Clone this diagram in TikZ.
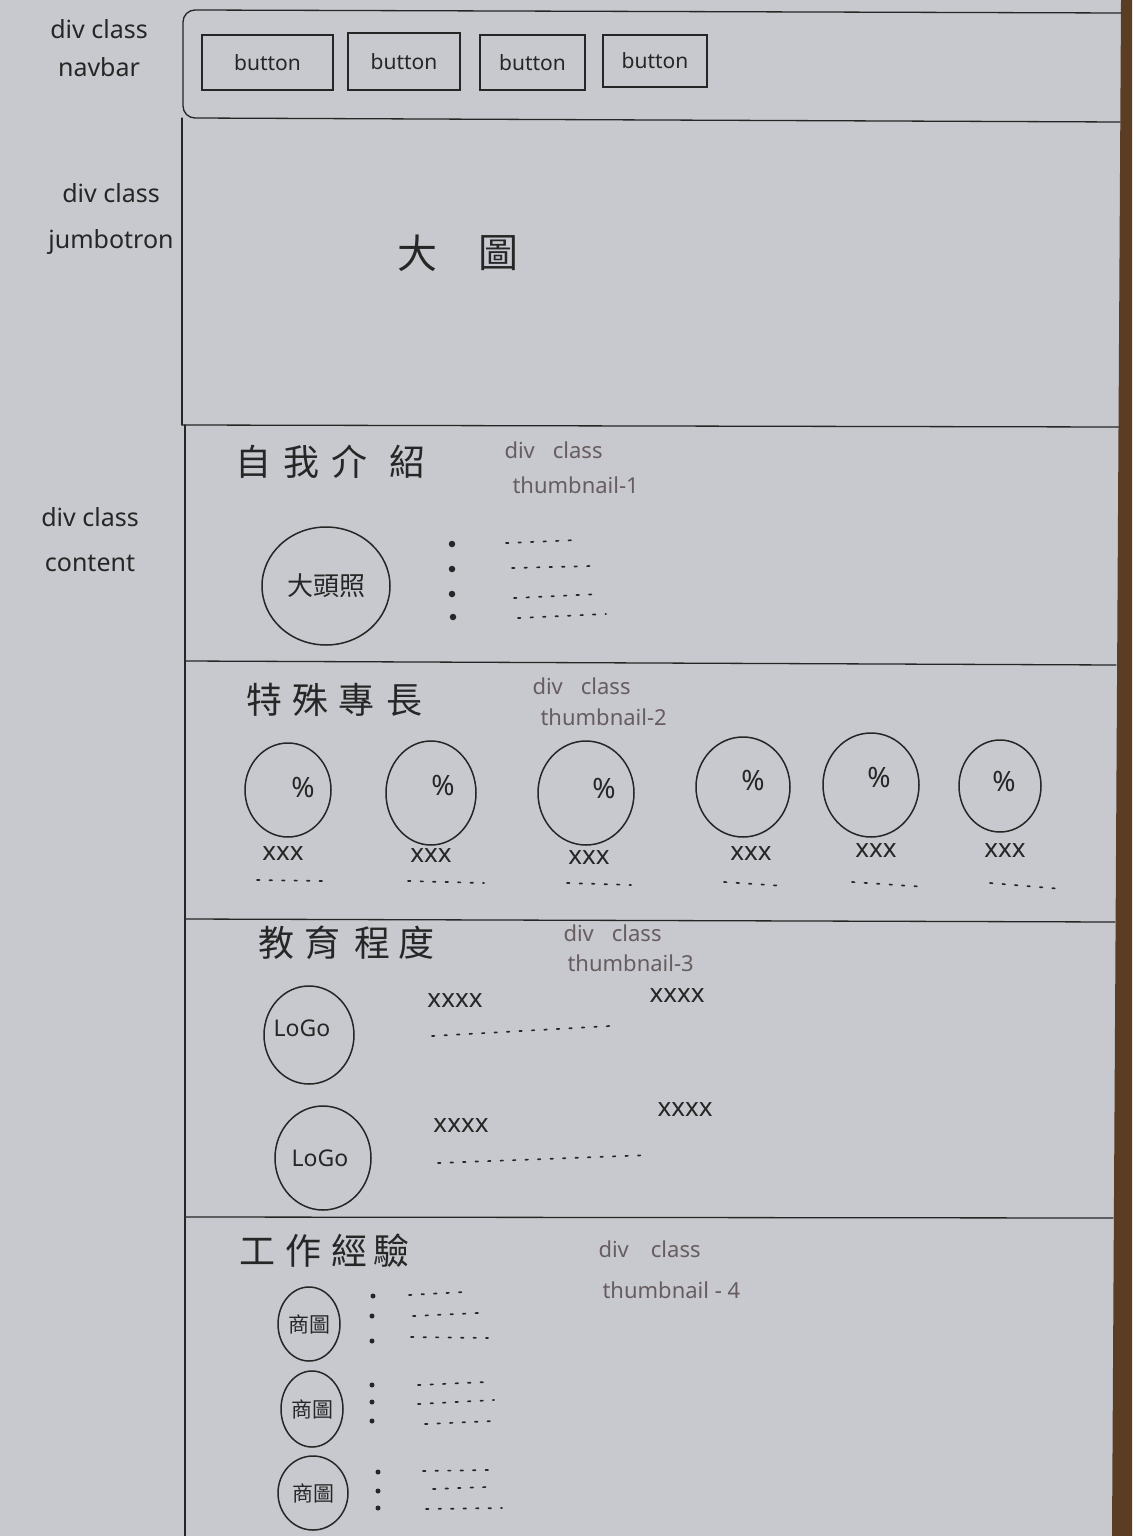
\documentclass[tikz,border=0pt]{standalone}
\usepackage{fontspec}
\setmainfont{Noto Sans}
\newfontfamily\cjk{Noto Sans CJK TC}
\usetikzlibrary{shapes.geometric}
\definecolor{paper}{HTML}{C7C9CE}
\definecolor{wood}{HTML}{5B3D24}
\definecolor{inkc}{HTML}{262626}
\definecolor{notec}{HTML}{675C60}
\begin{document}
\begin{tikzpicture}[x=1pt,y=-1pt,
  ink/.style={draw=inkc, line width=1.3pt, line cap=round},
  bubble/.style={ellipse, draw=inkc, line width=1.5pt, inner sep=0pt},
  dotrow/.style={draw=inkc, line width=1.7pt, dash pattern=on 2.5pt off 10pt, line cap=round},
  bullet/.style={circle, fill=inkc, inner sep=0pt, minimum size=6.5pt},
  side/.style={font=\fontsize{25}{26}\selectfont, text=inkc, align=center},
  note/.style={font=\fontsize{22}{23}\selectfont, text=notec, align=left, anchor=west},
  head/.style={font=\cjk\fontsize{36}{38}\selectfont, text=inkc, anchor=west},
  btnbox/.style={draw=inkc, line width=1.5pt, font=\fontsize{21}{23}\selectfont, text=inkc},
  intext/.style={font=\cjk\fontsize{26}{28}\selectfont, text=inkc},
  pct/.style={font=\fontsize{28}{30}\selectfont, text=inkc},
  xmark/.style={font=\fontsize{26}{28}\selectfont, text=inkc},
  logo/.style={font=\fontsize{23}{25}\selectfont, text=inkc},
  badge/.style={font=\cjk\fontsize{21}{23}\selectfont, text=inkc}
]
% sheet and table edge
\useasboundingbox (0,0) rectangle (1132,1536);
\fill[paper] (0,0) rectangle (1132,1536);
\fill[wood] (1121,0) -- (1132,0) -- (1132,1536) -- (1112,1536) -- cycle;

% navbar frame
\draw[ink] (1121,13) -- (195,10) to[out=180,in=90] (183,22) -- (183,106)
  to[out=-90,in=180] (195,118) -- (1120,122);
% jumbotron and content frames
\draw[ink] (182,118) -- (182,425);
\draw[ink] (182,425) -- (1119,427);
\draw[ink] (185,425) -- (185,1536);
\draw[ink] (186,661) -- (1116,665);
\draw[ink] (186,919) -- (1115,922);
\draw[ink] (186,1217) -- (1113,1218);

% side labels
\node[side] (lnav) at (99,48) {div class\\[12pt]navbar};
\node[side] (ljum) at (111,219) {div class\\[20pt]jumbotron};
\node[side] (lcon) at (90,540) {div class\\[19pt]content};

% navbar buttons
\node[btnbox, minimum width=131pt, minimum height=55pt] (b1) at (267.5,62.5) {button};
\node[btnbox, minimum width=112pt, minimum height=57pt] (b2) at (404,61.5) {button};
\node[btnbox, minimum width=105pt, minimum height=55pt] (b3) at (532.5,62.5) {button};
\node[btnbox, minimum width=104pt, minimum height=52pt] (b4) at (655,61) {button};

% jumbotron
\node[font=\cjk\fontsize{40}{42}\selectfont, text=inkc] (big1) at (417,253) {大};
\node[font=\cjk\fontsize{40}{42}\selectfont, text=inkc] (big2) at (498,253) {圖};

% section 1: about
\node[head] (h1) at (232,462) {自\hspace{12pt}我\hspace{12pt}介\hspace{22pt}紹};
\node[note] (n1) at (501,468) {div\hspace{18pt}class\\[12pt]\hspace{8pt}thumbnail-1};
\node[bubble, minimum width=128pt, minimum height=118pt] (photo) at (326,586) {};
\node[intext] (photot) at (photo) {大頭照};
\node[bullet] (d11) at (452,544) {};
\node[bullet] (d12) at (452,569) {};
\node[bullet] (d13) at (452,594) {};
\node[bullet] (d14) at (453,617) {};
\draw[dotrow] (506,543) -- (578,540);
\draw[dotrow] (512,568) -- (592,566);
\draw[dotrow] (514,598) -- (600,594);
\draw[dotrow] (518,618) -- (606,614);

% section 2: skills
\node[head] (h2) at (243,700) {特\hspace{10pt}殊\hspace{10pt}專\hspace{12pt}長};
\node[note] (n2) at (529,702) {div\hspace{18pt}class\\[8pt]\hspace{8pt}thumbnail-2};
\node[bubble, minimum width=86pt, minimum height=94pt] (s1) at (288,790) {};
\node[bubble, minimum width=90pt, minimum height=104pt] (s2) at (431,793) {};
\node[bubble, minimum width=96pt, minimum height=104pt] (s3) at (586,793) {};
\node[bubble, minimum width=94pt, minimum height=100pt] (s4) at (743,787) {};
\node[bubble, minimum width=96pt, minimum height=104pt] (s5) at (871,785) {};
\node[bubble, minimum width=82pt, minimum height=92pt] (s6) at (1000,786) {};
\node[pct] (p1) at (303,787) {\%};
\node[pct] (p2) at (443,785) {\%};
\node[pct] (p3) at (604,788) {\%};
\node[pct] (p4) at (753,780) {\%};
\node[pct] (p5) at (879,777) {\%};
\node[pct] (p6) at (1004,781) {\%};
\node[xmark] (x1) at (283,854) {xxx};
\node[xmark] (x2) at (431,856) {xxx};
\node[xmark] (x3) at (589,858) {xxx};
\node[xmark] (x4) at (751,854) {xxx};
\node[xmark] (x5) at (876,851) {xxx};
\node[xmark] (x6) at (1005,851) {xxx};
\draw[dotrow] (257,880) -- (322,881);
\draw[dotrow] (408,881) -- (484,883);
\draw[dotrow] (567,883) -- (631,885);
\draw[dotrow] (724,882) -- (784,886);
\draw[dotrow] (852,882) -- (926,887);
\draw[dotrow] (990,883) -- (1062,889);

% section 3: education
\node[head] (h3) at (255,943) {教\hspace{10pt}育\hspace{14pt}程\hspace{8pt}度};
\node[note] (n3) at (560,948) {div\hspace{18pt}class\\[7pt]\hspace{4pt}thumbnail-3};
\node[bubble, minimum width=90pt, minimum height=98pt] (g1) at (309,1035) {};
\node[bubble, minimum width=96pt, minimum height=104pt] (g2) at (323,1158) {};
\node[logo] (g1t) at (302,1028) {LoGo};
\node[logo] (g2t) at (320,1158) {LoGo};
\node[xmark] (e1) at (455,1001) {xxxx};
\node[xmark] (e2) at (677,996) {xxxx};
\node[xmark] (e3) at (461,1126) {xxxx};
\node[xmark] (e4) at (685,1110) {xxxx};
\draw[dotrow] (432,1036) -- (610,1026);
\draw[dotrow] (438,1163) -- (650,1155);

% section 4: work
\node[head] (h4) at (236,1251) {工\hspace{10pt}作\hspace{10pt}經\hspace{6pt}驗};
\node[note] (n4) at (595,1270) {div\hspace{22pt}class\\[18pt]\hspace{4pt}thumbnail - 4};
\node[bubble, minimum width=62pt, minimum height=74pt] (w1) at (309,1324) {};
\node[bubble, minimum width=62pt, minimum height=76pt] (w2) at (312,1409) {};
\node[bubble, minimum width=70pt, minimum height=74pt] (w3) at (313,1493) {};
\node[badge] (w1t) at (w1) {商圖};
\node[badge] (w2t) at (w2) {商圖};
\node[badge] (w3t) at (w3) {商圖};
\node[bullet, minimum size=5pt] (u11) at (373,1296) {};
\node[bullet, minimum size=5pt] (u12) at (372,1316) {};
\node[bullet, minimum size=5pt] (u13) at (372,1341) {};
\node[bullet, minimum size=5pt] (u21) at (372,1385) {};
\node[bullet, minimum size=5pt] (u22) at (372,1402) {};
\node[bullet, minimum size=5pt] (u23) at (372,1421) {};
\node[bullet, minimum size=5pt] (u31) at (378,1472) {};
\node[bullet, minimum size=5pt] (u32) at (378,1491) {};
\node[bullet, minimum size=5pt] (u33) at (378,1508) {};
\draw[dotrow] (409,1295) -- (464,1292);
\draw[dotrow] (413,1316) -- (478,1313);
\draw[dotrow] (411,1337) -- (488,1338);
\draw[dotrow] (418,1385) -- (487,1382);
\draw[dotrow] (418,1404) -- (494,1400);
\draw[dotrow] (425,1424) -- (494,1421);
\draw[dotrow] (423,1471) -- (489,1470);
\draw[dotrow] (433,1489) -- (487,1487);
\draw[dotrow] (426,1509) -- (502,1508);
\end{tikzpicture}
\end{document}
